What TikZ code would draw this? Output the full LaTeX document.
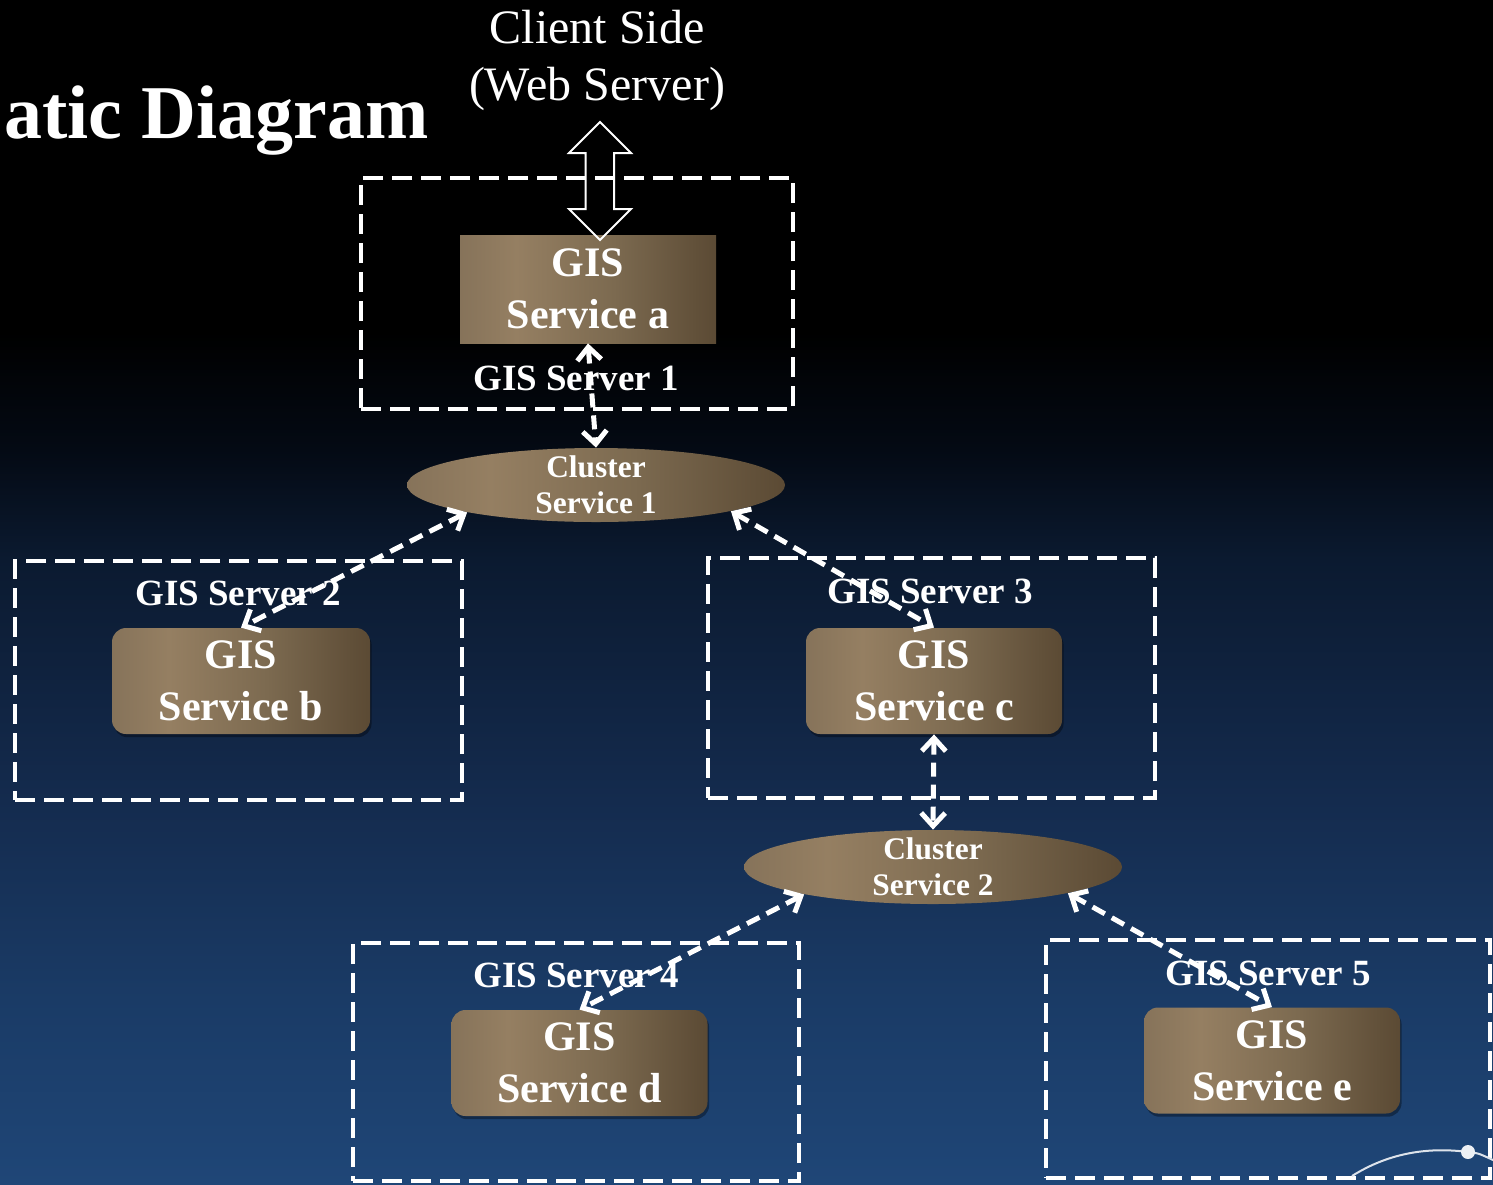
\documentclass[tikz,border=0pt]{standalone}
\usepackage{fontspec}
\setmainfont{Liberation Serif}
\usetikzlibrary{arrows.meta,shapes.geometric,shadows}

% page background: black at the top fading to navy at the bottom
\definecolor{bgA}{HTML}{1F4677}
\definecolor{bgB}{HTML}{1A3B66}
\definecolor{bgC}{HTML}{142B4E}
\definecolor{bgD}{HTML}{0B1A30}
\definecolor{bgE}{HTML}{040A14}
\pgfdeclareverticalshading{bgshade}{100bp}{%
  color(0bp)=(bgA); color(25bp)=(bgA); color(32.8bp)=(bgB);
  color(41.2bp)=(bgC); color(51.4bp)=(bgD); color(56bp)=(bgE);
  color(61bp)=(black); color(75bp)=(black); color(100bp)=(black)}

% bronze fill of the service boxes and cluster ellipses
\definecolor{brA}{HTML}{86735A}
\definecolor{brB}{HTML}{957F62}
\definecolor{brC}{HTML}{7C6A50}
\definecolor{brD}{HTML}{5B4A34}
\pgfdeclarehorizontalshading{boxshade}{100bp}{%
  color(0bp)=(brA); color(25bp)=(brA); color(36bp)=(brB);
  color(55bp)=(brC); color(75bp)=(brD); color(100bp)=(brD)}

\tikzset{
  svc/.style={shade, shading=boxshade, minimum width=128pt, minimum height=53pt,
    inner sep=0pt, align=center, text=white,
    font=\bfseries\fontsize{21}{26}\selectfont},
  svcr/.style={svc, rounded corners=7pt,
    drop shadow={shadow xshift=0.8pt, shadow yshift=-1.6pt, opacity=0.35, fill=black}},
  clus/.style={ellipse, shade, shading=boxshade, minimum width=189pt,
    minimum height=37pt, inner sep=0pt},
  clustext/.style={text=white, align=center, inner sep=0pt,
    font=\bfseries\fontsize{15.7}{18}\selectfont},
  srvbox/.style={draw=white, line width=2pt, dash pattern=on 10pt off 4.5pt,
    inner sep=0pt},
  lbl/.style={text=white, anchor=base, inner sep=0pt,
    font=\bfseries\fontsize{18.5}{22}\selectfont},
  barb/.tip={Straight Barb[length=6.5pt,width=12pt]},
  link/.style={white, line width=2.5pt, dash pattern=on 7pt off 4pt, barb-barb}
}

\begin{document}
\begin{tikzpicture}[x=0.5pt,y=-0.5pt]
\useasboundingbox (0,0) rectangle (1493,1184);
\shade[shading=bgshade] (0,0) rectangle (1493,1184);

% heading and client side
\node[anchor=base west, inner sep=0pt, text=white,
  font=\bfseries\fontsize{38}{46}\selectfont] (title) at (4,138) {atic Diagram};
\node[text=white, align=center, inner sep=0pt,
  font=\fontsize{24}{28.5}\selectfont] (client) at (597,60) {Client Side\\(Web Server)};

% server frames
\node[srvbox, minimum width=216pt, minimum height=115.5pt] (s1) at (577,293.5) {};
\node[srvbox, minimum width=223.5pt, minimum height=119.5pt] (s2) at (238.5,680.5) {};
\node[srvbox, minimum width=223.5pt, minimum height=120pt] (s3) at (931.5,678) {};
\node[srvbox, minimum width=223pt, minimum height=119pt] (s4) at (576,1062) {};
\node[srvbox, minimum width=222pt, minimum height=119pt] (s5) at (1268,1059) {};

% services
\node[svc, minimum height=54pt] (sa) at (588,289) {GIS\\Service a};
\node[svcr, minimum width=129pt] (sb) at (241,681) {GIS\\Service b};
\node[svcr] (sc) at (934,681) {GIS\\Service c};
\node[svcr] (sd) at (579.5,1063) {GIS\\Service d};
\node[svcr] (se) at (1272,1060.5) {GIS\\Service e};

% clusters
\node[clus] (c1) at (596,485) {};
\node[clustext] (c1t) at (c1) {Cluster\\Service 1};
\node[clus] (c2) at (933,867) {};
\node[clustext] (c2t) at (c2) {Cluster\\Service 2};

% server labels
\node[lbl] (l1) at (576,390) {GIS Server 1};
\node[lbl] (l2) at (238,605) {GIS Server 2};
\node[lbl] (l3) at (930,603) {GIS Server 3};
\node[lbl] (l4) at (576,987) {GIS Server 4};
\node[lbl] (l5) at (1268,985) {GIS Server 5};

% block double arrow between the client and service a
\coordinate (cst) at (600,122);
\draw[white, line width=1pt, line join=miter]
  (cst) -- ++(-31,31) -- ++(16.5,0) -- ++(0,56) -- ++(-16.5,0)
  -- ++(31,31) -- ++(31,-31) -- ++(-17,0) -- ++(0,-56) -- ++(17,0) -- cycle;

% dashed links
\draw[link] (sa.south) -- (c1.north);
\draw[link] (c1.192) -- (sb.north);
\draw[link] (c1.-11) -- (sc.north);
\draw[link] (sc.south) -- (c2.north);
\draw[link] (c2.192) -- (sd.north);
\draw[link] (c2.-11.5) -- (se.north);

% corner emblem
\coordinate (dot) at (1468,1152);
\draw[white!85!bgA, line width=1pt] (1352,1176) .. controls (1390,1152) and (1430,1147) .. (dot)
  .. controls (1478,1153) .. (1493,1160);
\fill[white!92!bgA] (dot) circle (7);
\end{tikzpicture}
\end{document}
